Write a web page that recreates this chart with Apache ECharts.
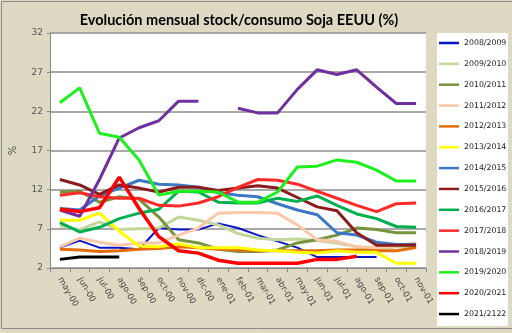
<!DOCTYPE html>
<html><head><meta charset="utf-8">
<script src="https://cdn.jsdelivr.net/npm/echarts@6/dist/echarts.min.js"></script>
<style>html,body{margin:0;padding:0;background:#DDD9C3;}#c{width:512px;height:333px;}</style>
</head><body><div id="c"></div>
<script>
const categories = ['may-00','jun-00','jul-00','ago-00','sep-00','oct-00','nov-00','dic-00','ene-01','feb-01','mar-01','abr-01','may-01','jun-01','jul-01','ago-01','sep-01','oct-01','nov-01'];
const yTicks = [2, 7, 12, 17, 22, 27, 32];
const seriesNames = ['2008/2009','2009/2010','2010/2011','2011/2012','2012/2013','2013/2014','2014/2015','2015/2016','2016/2017','2017/2018','2018/2019','2019/2020','2020/2021','2021/2122'];
const s0809 = [4.6, 5.5, 4.6, 4.6, 4.4, 7.1, 6.9, 6.9, 7.7, 7.1, 6.2, 5.4, 4.6, 3.4, 3.4, 3.4, 3.4, null, null];
const s0910 = [7.4, 6.9, 7.9, 6.9, 7.0, 7.1, 8.5, 8.1, 7.5, 6.4, 5.8, 5.6, 5.7, 5.5, 5.2, 4.7, 4.4, 4.7, 4.7];
const s1011 = [11.7, 11.8, 10.4, 11.1, 10.8, 8.5, 5.6, 5.2, 4.4, 4.1, 4.1, 4.3, 5.2, 5.6, 6.2, 7.1, 6.9, 6.5, 6.5];
const s1112 = [4.7, 5.8, 5.3, 4.9, 5.2, 5.2, 6.2, 7.1, 9.0, 9.1, 9.1, 9.0, 7.5, 5.6, 5.4, 4.7, 4.6, 4.8, 5.2];
const s1213 = [4.4, 4.3, 4.1, 4.2, 4.4, 4.5, 4.7, 4.6, 4.4, 4.3, 4.2, 4.2, 4.2, 4.2, 4.3, 4.3, 4.2, 4.2, 4.6];
const s1314 = [8.1, 8.1, 9.0, 6.7, 4.8, 4.7, 5.1, 4.6, 4.6, 4.6, 4.3, 4.2, 4.0, 3.9, 4.2, 4.0, 4.0, 2.6, 2.6];
const s1415 = [9.6, 9.4, 11.2, 12.2, 13.2, 12.7, 12.6, 12.3, 11.6, 11.3, 11.1, 10.2, 9.4, 8.8, 6.5, 6.2, 5.3, 5.0, 5.0];
const s1516 = [13.3, 12.6, 11.4, 12.6, 12.2, 11.7, 12.3, 12.3, 11.9, 12.2, 12.5, 12.2, 11.0, 9.8, 9.3, 6.5, 4.9, 4.9, 4.9];
const s1617 = [7.8, 6.6, 7.2, 8.3, 9.0, 9.5, 11.8, 11.7, 10.4, 10.3, 10.3, 10.9, 10.5, 11.2, 10.0, 8.9, 8.3, 7.3, 7.2];
const s1718 = [11.3, 11.6, 11.1, 10.9, 10.9, 10.0, 9.9, 10.3, 11.1, 12.3, 13.3, 13.2, 12.7, 11.8, 10.9, 10.0, 9.2, 10.2, 10.3];
const s1819 = [9.4, 8.6, 13.3, 18.6, 19.9, 20.8, 23.3, 23.3, null, 22.4, 21.8, 21.8, 24.8, 27.3, 26.7, 27.3, 25.1, 23.0, 23.0];
const s1920 = [23.1, 25.0, 19.2, 18.7, 15.8, 11.3, 11.8, 11.8, 11.7, 10.4, 10.4, 11.7, 14.9, 15.0, 15.8, 15.5, 14.5, 13.1, 13.1];
const s2021 = [9.5, 9.2, 9.7, 13.6, 9.6, 6.0, 4.2, 3.9, 3.0, 2.6, 2.6, 2.6, 2.6, 3.1, 3.1, 3.5, null, null, null];
const s2122 = [3.1, 3.4, 3.4, 3.4, null, null, null, null, null, null, null, null, null, null, null, null, null, null, null];

const allData = [s0809, s0910, s1011, s1112, s1213, s1314, s1415, s1516, s1617, s1718, s1819, s1920, s2021, s2122];
const colors = ['#0A14C8','#C3D69B','#77933C','#FAC8A8','#E46C0A','#FFFF00','#3C78C3','#8C1C1C','#00B050','#FF2A2A','#7030A0','#1EF01E','#FF0000','#000000'];
const widths = [2, 3, 3, 3, 3, 3, 3, 3, 3, 3, 3, 3, 3.5, 3];

const chart = echarts.init(document.getElementById('c'), null, {renderer: 'canvas'});
const series = seriesNames.map((n, i) => ({
  name: n, type: 'line', data: allData[i], symbol: 'none', connectNulls: false,
  lineStyle: {color: colors[i], width: widths[i]}, itemStyle: {color: colors[i]},
  emphasis: {disabled: true}, animation: false
}));
chart.setOption({
  animation: false,
  backgroundColor: '#DDD9C3',
  graphic: [
    {type: 'rect', z: 0, shape: {x: 1.5, y: 1.5, width: 512, height: 327}, style: {fill: 'none', stroke: '#8a8a8a', lineWidth: 1}},
    {type: 'rect', z: 0, shape: {x: 437, y: 33, width: 71, height: 293}, style: {fill: '#ffffff', stroke: 'none'}}
  ],
  title: {
    text: 'Evolución mensual stock/consumo Soja EEUU (%)',
    left: 234, top: 8, textAlign: 'center',
    textStyle: {fontFamily: 'Lato', fontWeight: 'bold', fontSize: 14.5, color: '#000'}
  },
  legend: {
    orient: 'vertical', left: 439, top: 38, padding: 0,
    itemWidth: 20, itemHeight: 2.5, itemGap: 10.85, icon: 'rect',
    data: seriesNames,
    textStyle: {fontFamily: 'DejaVu Sans', fontSize: 7.8, color: '#222', lineHeight: 10},
    selectedMode: false
  },
  grid: {left: 43, top: 33, right: 86, bottom: 65, show: true, backgroundColor: '#ffffff', borderWidth: 0, containLabel: false},
  xAxis: {
    type: 'category', data: categories, boundaryGap: true,
    axisLine: {lineStyle: {color: '#888', width: 1}},
    axisTick: {show: true, length: 4, lineStyle: {color: '#888'}, alignWithLabel: false},
    axisLabel: {rotate: -60, margin: 10, fontFamily: 'DejaVu Sans', fontSize: 8.5, color: '#444', interval: 0},
    splitLine: {show: false}
  },
  yAxis: {
    type: 'value', min: yTicks[0], max: yTicks[yTicks.length - 1], interval: 5,
    name: '%', nameLocation: 'middle', nameRotate: 90, nameGap: 32,
    nameTextStyle: {fontFamily: 'DejaVu Sans', fontSize: 10, color: '#444'},
    axisLine: {show: true, lineStyle: {color: '#888', width: 1}},
    axisTick: {show: true, length: 3, lineStyle: {color: '#888'}},
    axisLabel: {margin: 7, fontFamily: 'DejaVu Sans', fontSize: 9, color: '#555'},
    splitLine: {show: true, lineStyle: {color: '#8c8c8c', width: 1.5}}
  },
  series: series
});
</script></body></html>
